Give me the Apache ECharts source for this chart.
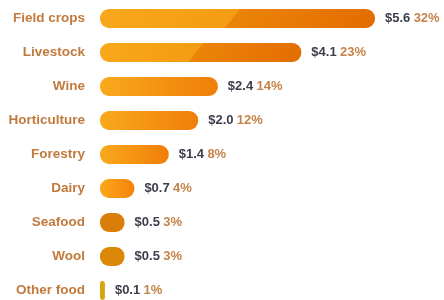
<!DOCTYPE html>
<html>
<head>
<meta charset="utf-8">
<script src="https://cdn.jsdelivr.net/npm/echarts@6/dist/echarts.min.js"></script>
<style>
  html, body { margin: 0; padding: 0; background: #fff; }
  #chart { width: 444px; height: 300px; }
</style>
</head>
<body>
<div id="chart"></div>
<script>
// categories, top to bottom
var categories = ['Field crops', 'Livestock', 'Wine', 'Horticulture', 'Forestry', 'Dairy', 'Seafood', 'Wool', 'Other food'];
// value in $ billions
var values = [5.6, 4.1, 2.4, 2.0, 1.4, 0.7, 0.5, 0.5, 0.1];
// share of total
var shares = ['32%', '23%', '14%', '12%', '8%', '4%', '3%', '3%', '1%'];

var MAX = 5.6, PLOT_W = 275, BAR_H = 19;

function grad(a, b) {
    return new echarts.graphic.LinearGradient(0, 0, 1, 0, [
        { offset: 0, color: a }, { offset: 1, color: b }
    ]);
}
// two-tone bar with a slanted edge at fraction f of its length
function split(v, f) {
    var w = v / MAX * PLOT_W, h = BAR_H, s = 15;
    var d = w * s / (h * h);
    var xs = f * w;
    var len2 = w * w + (h * d) * (h * d);
    var t = (xs * w + (h / 2) * (h * d)) / len2;
    var tEnd = (w * w + h * h * d) / len2;
    return new echarts.graphic.LinearGradient(0, 0, 1, d, [
        { offset: 0, color: '#f9a81c' },
        { offset: t, color: '#f49c12' },
        { offset: t + 0.002, color: '#eb8408' },
        { offset: tEnd, color: '#e36c00' },
        { offset: 1, color: '#e36c00' }
    ]);
}
var fills = [
    split(values[0], 0.48),
    split(values[1], 0.475),
    grad('#f9a91b', '#f07e0a'),
    grad('#f9a91b', '#f07e0a'),
    grad('#f9a91b', '#f07e0a'),
    grad('#fba81a', '#f5820c'),
    '#db7e09',
    '#dd8709',
    '#d8a210'
];

var chart = echarts.init(document.getElementById('chart'));
chart.setOption({
    animation: false,
    backgroundColor: '#fff',
    grid: { left: 100, top: 1.5, width: PLOT_W, height: 306, outerBoundsMode: 'none', containLabel: false },
    xAxis: {
        type: 'value', min: 0, max: MAX,
        show: false
    },
    yAxis: {
        type: 'category',
        data: categories,
        inverse: true,
        axisLine: { show: false },
        axisTick: { show: false },
        axisLabel: {
            margin: 15,
            color: '#c27a3c',
            fontFamily: 'Liberation Sans',
            fontWeight: 'bold',
            fontSize: 13.5
        }
    },
    series: [{
        type: 'bar',
        barWidth: BAR_H,
        data: values.map(function (v, i) {
            return { value: v, itemStyle: { color: fills[i] } };
        }),
        itemStyle: { borderRadius: 9 },
        label: {
            show: true,
            position: 'right',
            distance: 10,
            formatter: function (p) {
                return '{v|$' + p.value.toFixed(1) + '} {s|' + shares[p.dataIndex] + '}';
            },
            rich: {
                v: { color: '#3d3d4c', fontFamily: 'Liberation Sans', fontWeight: 'bold', fontSize: 13 },
                s: { color: '#c4834a', fontFamily: 'Liberation Sans', fontWeight: 'bold', fontSize: 13 }
            }
        }
    }]
});
</script>
</body>
</html>
